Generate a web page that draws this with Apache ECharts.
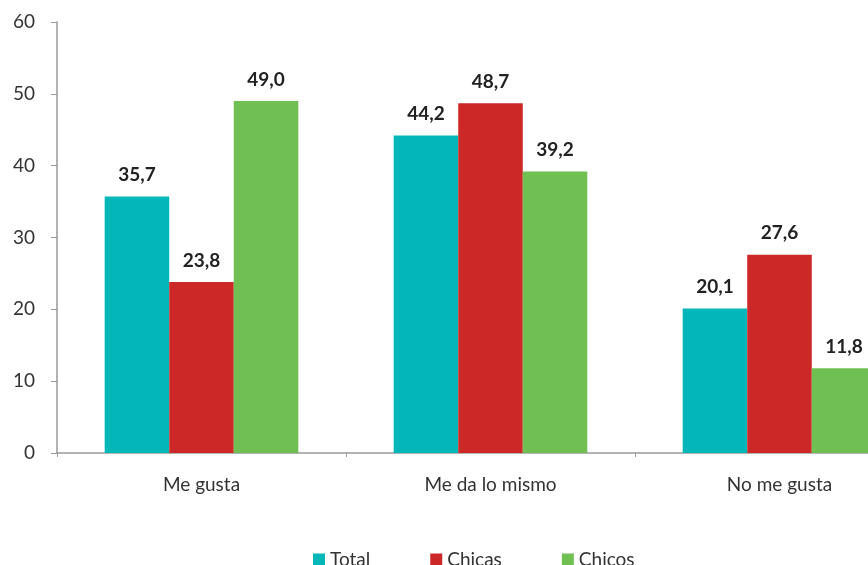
<!DOCTYPE html>
<html><head><meta charset="utf-8">
<script src="https://cdn.jsdelivr.net/npm/echarts@6/dist/echarts.min.js"></script>
<style>html,body{margin:0;padding:0;background:#fff}#c{width:868px;height:565px}</style>
</head><body><div id="c"></div>
<script>
var categories = ['Me gusta', 'Me da lo mismo', 'No me gusta'];
var seriesNames = ['Total', 'Chicas', 'Chicos'];
var totalValues = [35.7, 44.2, 20.1];
var chicasValues = [23.8, 48.7, 27.6];
var chicosValues = [49.0, 39.2, 11.8];
var yTicks = [0, 10, 20, 30, 40, 50, 60];
var colors = ['#03b7b9', '#cd2828', '#6fbf53'];

var chart = echarts.init(document.getElementById('c'));
var lab = {show: true, position: 'top', distance: 12, color: '#222', fontWeight: 'bold', fontSize: 19, fontFamily: 'Lato',
  formatter: function(p){ return p.value.toFixed(1).replace('.', ','); }};
function mk(name, data, color){
  return {name: name, type: 'bar', data: data, itemStyle: {color: color}, label: lab,
    barGap: '0%', barCategoryGap: '33%'};
}
chart.setOption({
  animation: false,
  textStyle: {fontFamily: 'Lato'},
  grid: {left: 57, top: 22, bottom: 112, right: -56, outerBoundsMode: 'none', containLabel: false},
  legend: {top: 545, left: 308, itemWidth: 12, itemHeight: 12, itemGap: 60, icon: 'rect',
    textStyle: {fontSize: 19, color: '#333', fontFamily: 'Lato'}, data: seriesNames},
  xAxis: {type: 'category', data: categories,
    axisLine: {lineStyle: {color: '#999', width: 1.5}},
    axisTick: {show: true, length: 4, lineStyle: {color: '#999'}},
    axisLabel: {fontSize: 19, color: '#333', margin: 22, fontFamily: 'Lato'}},
  yAxis: {type: 'value', min: yTicks[0], max: yTicks[yTicks.length-1], interval: 10,
    axisLine: {show: true, lineStyle: {color: '#999', width: 1.5}},
    axisTick: {show: true, length: 6, lineStyle: {color: '#999'}},
    splitLine: {show: false},
    axisLabel: {fontSize: 19, color: '#333', margin: 22, fontFamily: 'Lato'}},
  series: [mk(seriesNames[0], totalValues, colors[0]), mk(seriesNames[1], chicasValues, colors[1]), mk(seriesNames[2], chicosValues, colors[2])]
});
</script></body></html>
